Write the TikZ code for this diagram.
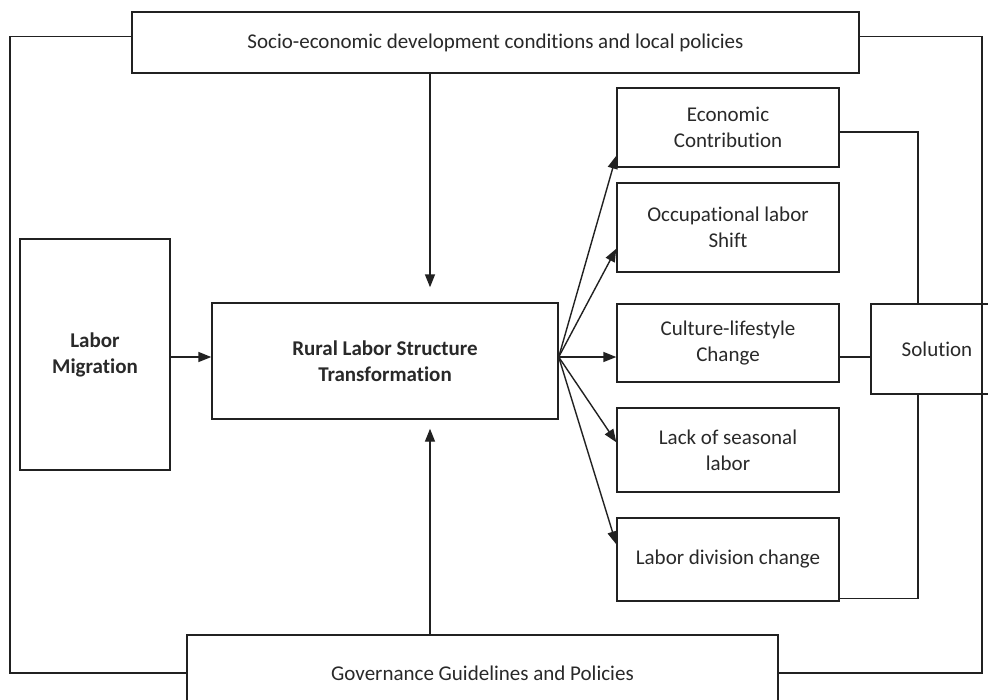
\documentclass[tikz,border=0pt]{standalone}
\usepackage{fontspec}
\setmainfont{Carlito}[Ligatures=NoCommon]
\usetikzlibrary{arrows.meta,calc,positioning}
\definecolor{lineink}{rgb}{0.13,0.13,0.13}
\definecolor{textink}{rgb}{0.16,0.16,0.16}

\begin{document}
\begin{tikzpicture}[x=1pt,y=-1pt,font=\fontsize{21}{26}\selectfont,
  box/.style={draw=lineink,line width=1.4pt,align=center,inner sep=0pt,text=textink},
  link/.style={draw=lineink,line width=1.4pt},
  arr/.style={link,-{Triangle[length=13pt,width=10pt]}}]
  \clip (0,0) rectangle (988,699);
  \fill[white] (0,0) rectangle (988,699);
  % outer frame
  \node[box,minimum width=727pt,minimum height=61pt] (soc) at (495.5,42.5)
    {Socio-economic development conditions and local policies};
  \node[box,minimum width=591pt,minimum height=76pt] (gov) at (482.5,673)
    {Governance Guidelines and Policies};
  % middle row
  \node[box,minimum width=150pt,minimum height=231pt,font=\fontsize{21}{26}\selectfont\bfseries] (mig) at (95,354.5)
    {Labor\\Migration};
  \node[box,minimum width=346pt,minimum height=116pt,font=\fontsize{21}{26}\selectfont\bfseries] (rural) at (385,361)
    {Rural Labor Structure\\Transformation};
  % outcomes
  \node[box,minimum width=222pt,minimum height=79pt] (econ) at (728,127.5) {Economic\\Contribution};
  \node[box,minimum width=222pt,minimum height=89pt] (occup) at (728,227.5) {Occupational labor\\Shift};
  \node[box,minimum width=222pt,minimum height=78pt] (cult) at (728,343) {Culture-lifestyle\\Change};
  \node[box,minimum width=222pt,minimum height=84pt] (lack) at (728,450) {Lack of seasonal\\labor};
  \node[box,minimum width=222pt,minimum height=83pt] (divi) at (728,559.5) {Labor division change};
  \node[box,minimum width=132pt,minimum height=90pt] (sol) at (937,349) {Solution};

  \coordinate (mid) at (430,0);\coordinate (hub) at ([yshift=4pt]rural.east);
  \coordinate (frameL) at (10,350);\coordinate (frameR) at (982,350);
  \coordinate (join) at (918,0);

  \draw[link] ([yshift=6pt]soc.west) -| (frameL) |- (gov.west);
  \draw[link] ([yshift=6pt]soc.east) -| (frameR) |- (gov.east);
  \draw[arr] (soc.south -| mid) -- ([yshift=15pt]rural.north -| mid);
  \draw[arr] (gov.north -| mid) -- ([yshift=-9pt]rural.south -| mid);
  \draw[arr] (mig.east |- hub) -- (rural.west |- hub);
  % fan out
  \draw[arr] (hub) -- ([yshift=12pt]econ.south west);
  \draw[arr] (hub) -- ([yshift=24pt]occup.south west);
  \draw[arr] (hub) -- (cult.west |- hub);
  \draw[arr] (hub) -- ([yshift=-35pt]lack.north west);
  \draw[arr] (hub) -- ([yshift=-27pt]divi.north west);
  % to solution
  \draw[link] ([yshift=-4.5pt]econ.east) -| (join |- sol.north);
  \draw[link] (cult.east |- hub) -- (sol.west |- hub);
  \draw[link] ([yshift=3pt]divi.south east) -| (join |- sol.south);
\end{tikzpicture}
\end{document}
